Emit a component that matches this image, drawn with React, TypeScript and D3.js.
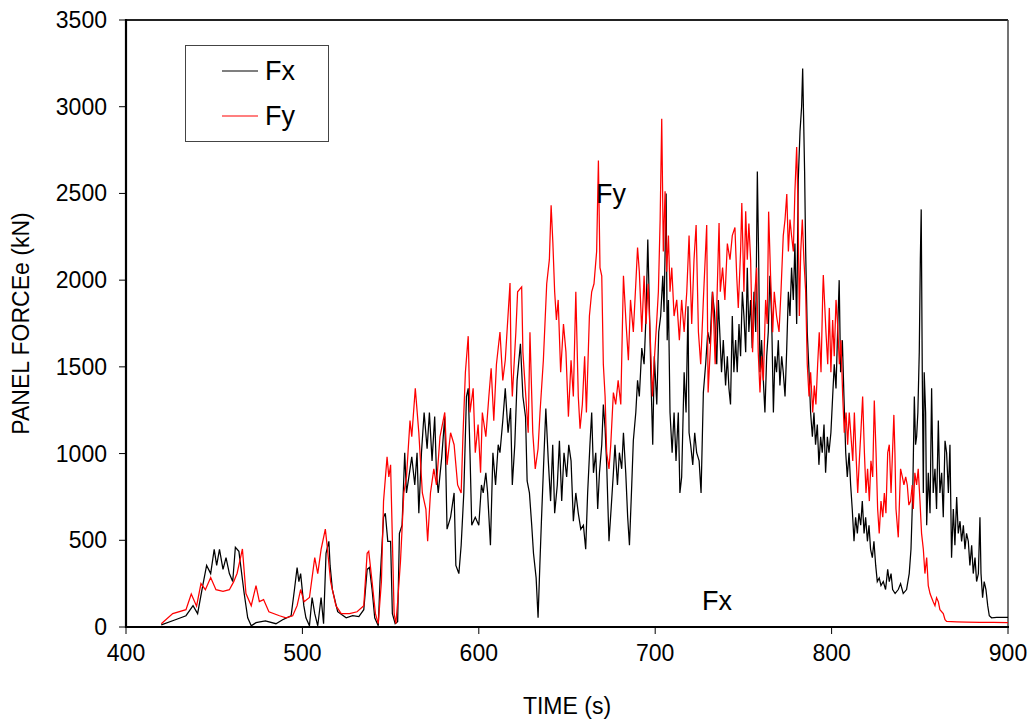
import React from "react";
import * as d3 from "d3";

const xTicks = [400, 500, 600, 700, 800, 900];
const yTicks = [0, 500, 1000, 1500, 2000, 2500, 3000, 3500];

// Fx (black) — [time s, force kN]
const fxData: [number, number][] = [
  [420,12],[428,42],[434,65],[438,123],[440.6,77],[443.5,239],[445.7,355],[448,308],[450,448],[451.4,355],[453,448],[455,332],[456.7,400],[458.6,308],[460.5,262],[462,460],[464,436],[465,355],[467,193],[469,53],[471,7],[473.7,25],[479,35],[485,19],[488.8,42],[493.6,65],[495.5,216],[497,343],[498,262],[499,308],[500.8,123],[502,53],[504,7],[505.5,170],[507,77],[508.7,7],[510.6,170],[512,19],[513.4,425],[515,494],[515.7,355],[517,216],[520,88],[524.8,53],[528.5,65],[532,60],[534.8,100],[536.7,332],[538,343],[539.5,216],[541,53],[543,7],[544,262],[546,633],[547,656],[548.4,494],[550,494],[551,77],[552.6,19],[554,30],[555,540],[556.5,587],[558,1005],[559,773],[560.7,889],[562,981],[563.7,819],[565,1005],[566,656],[567.5,1005],[569,1237],[570.7,1028],[572,1237],[573.5,958],[575,1213],[576,889],[577,773],[579,981],[580.7,1213],[582,564],[584,633],[586,773],[587,355],[588.7,308],[590,471],[591.5,773],[593,1329],[594,1376],[595,1005],[596,587],[598,633],[600,587],[601.5,819],[602.5,773],[604,889],[605,773],[606.6,471],[608,1005],[609.5,819],[611,1051],[612,1005],[613.6,1190],[615,1376],[616.6,1120],[618,1262],[619,819],[620.4,1051],[621.7,1422],[623.6,1633],[625,1329],[626.5,1211],[627.4,842],[628.7,773],[630,587],[631,425],[632.5,283],[633.6,53],[634.6,355],[635.5,610],[637,1005],[638,1260],[639.4,958],[640.7,726],[641.9,1051],[643,656],[644.5,819],[645.7,1074],[647,726],[648.3,1005],[649.8,865],[651,1051],[652.3,958],[653.6,610],[655,773],[656.4,656],[657.8,564],[659.3,587],[660.6,448],[661.7,773],[663,1051],[664,1237],[665,889],[666.3,1005],[667.4,680],[668.4,889],[669.7,1051],[670.6,1283],[671.6,1144],[672.5,935],[673.8,494],[675,680],[676.3,889],[677.2,1051],[678.6,819],[679.7,1005],[681,912],[682,1120],[683.3,889],[684.4,633],[685.4,471],[686.7,819],[687.6,1074],[689,1237],[690,1422],[691,1329],[692.4,1608],[693.7,1515],[694.8,1793],[695.8,2234],[696.5,1933],[697.5,1469],[698.6,1051],[699.5,1561],[700.9,1283],[702,1701],[703.1,1793],[704.3,2025],[705,1817],[706.2,2500],[706.8,1654],[707.5,1886],[708.4,1237],[709.6,1005],[710.7,1237],[711.8,958],[713.1,1237],[714,773],[715,865],[716.4,1469],[717.5,1237],[718.6,1850],[719.2,1120],[720.1,1051],[721.3,935],[722.4,1120],[723.5,1005],[724.9,958],[726,773],[727.3,1352],[728.6,1515],[729.8,1701],[731.1,1633],[732.4,1933],[733.6,1817],[734.9,1515],[735.8,1886],[736.4,1747],[737.6,1469],[738.6,1654],[739.9,1392],[740.9,1561],[741.8,1376],[742.7,1283],[743.7,1793],[744.6,1469],[745.6,1654],[746.5,1469],[747.5,1747],[748.4,1561],[749.4,1933],[750.3,1793],[751.3,1585],[752.2,2072],[753.1,1701],[754.1,1886],[755,1608],[756,1933],[757,1701],[757.9,2627],[758.6,2165],[759.4,1469],[760.3,1654],[761.3,1422],[762.2,1237],[763.2,1561],[764.1,1701],[765,2025],[766,1793],[767,1237],[767.9,1561],[768.8,1469],[769.8,1654],[770.7,1392],[771.7,1561],[772.6,1469],[773.6,1329],[774.5,1585],[775.5,1933],[776.4,1793],[777.3,2072],[778.3,1886],[779.2,2211],[780.2,1747],[781.1,2581],[782.1,2859],[783,3000],[783.6,3220],[784.1,2953],[784.7,2627],[785.3,2165],[786.2,1701],[787.2,1469],[788.1,1237],[789.1,1097],[790,1237],[790.9,1051],[791.9,1167],[792.8,935],[793.8,1097],[794.7,1005],[795.7,1167],[796.6,889],[797.6,1097],[798.5,1005],[799.6,1120],[800.6,1329],[801.5,1515],[802.5,1376],[803.4,1701],[804.3,2000],[805.1,1469],[806.1,1654],[807,1329],[808,1005],[808.9,865],[809.9,1005],[810.8,819],[811.7,680],[812.7,494],[813.6,633],[814.6,540],[815.5,656],[816.5,587],[817.4,726],[818.4,540],[819.3,633],[820.3,494],[821.2,587],[822.1,448],[823.1,400],[824,494],[825,355],[825.9,262],[827,283],[828,239],[829.3,262],[830.6,216],[831.8,332],[832.7,262],[833.7,308],[834.6,216],[836,193],[837.8,216],[839.1,250],[840.6,193],[842.5,216],[844,308],[845,448],[846,773],[846.9,1329],[847.6,1051],[848.2,1097],[848.9,1237],[849.7,1585],[850.3,2118],[850.8,2408],[851.4,1469],[852,773],[852.5,1469],[853.3,1237],[853.9,587],[854.8,889],[855.8,656],[856.7,1376],[857.6,773],[858.6,912],[859.5,680],[860.5,1190],[861.4,773],[862.4,889],[863.3,633],[864.3,1074],[865.2,1005],[866.2,773],[867.1,1051],[868,400],[869,680],[869.9,471],[870.9,749],[871.8,540],[872.8,610],[873.7,494],[874.7,587],[875.6,448],[876.5,540],[877.5,494],[878.4,355],[879.4,471],[880.3,308],[881.3,400],[882.2,262],[883.2,308],[884.1,633],[884.7,308],[885.6,169],[886.5,262],[887.5,216],[888.5,123],[889.4,65],[890.7,53],[893.6,55],[900,55]
];

// Fy (red) — [time s, force kN]
const fyData: [number, number][] = [
  [420,19],[426.5,77],[434,100],[437,190],[440,120],[442.5,250],[445,215],[448,285],[451,215],[455,205],[458.6,215],[461,260],[463,310],[466,450],[468,193],[471,123],[473.7,239],[475.6,146],[478,158],[481,88],[487,65],[490.7,53],[494.5,65],[497,123],[499,216],[501,146],[504,170],[507,400],[508.7,308],[510.6,448],[513,564],[514,471],[516,262],[519,123],[522,77],[526.7,77],[531,88],[534.8,123],[536.7,425],[537.6,436],[539.5,262],[541.4,77],[543,19],[544.8,262],[546,726],[548,981],[549,865],[550,935],[552,77],[553,19],[554,146],[555.6,378],[557.5,773],[559,865],[561,1190],[562,1097],[564,1376],[566,1120],[568,773],[570,680],[571,494],[572.6,773],[574.5,912],[576,819],[578,1097],[580.7,1237],[582,935],[584,1120],[586,1051],[588,819],[590,773],[591,1097],[592.4,1469],[594,1677],[595,1237],[596.8,1376],[598,1005],[599.6,1167],[601,889],[602,1237],[604,1097],[605.7,1329],[607,1492],[608.5,1190],[610,1515],[612,1701],[613.6,1422],[615,1538],[617.7,1984],[618.3,1515],[619,1329],[621,1700],[622,1933],[624.3,1961],[625,1585],[626.5,1352],[628,1120],[629,1700],[630.6,1120],[632,912],[633.6,1028],[634.7,1237],[636.6,1538],[637.5,1747],[638.5,1979],[640,2118],[641,2431],[642,2211],[643,1933],[644,1770],[645,1886],[646.4,1469],[648,1747],[649.4,1585],[650.8,1213],[652.3,1538],[653.6,1329],[655,1933],[656.4,1329],[657.4,1144],[658.7,1283],[660,1561],[661,1237],[662.7,1793],[664,1933],[665.3,1979],[666.8,2165],[667.8,2690],[668.7,2072],[669.7,2025],[670.6,1515],[671.6,1329],[672.5,1005],[673.8,912],[674.8,1051],[676.3,1352],[677.6,1283],[679,1422],[680.5,1283],[682,2025],[683.5,1747],[684.8,1538],[686,1886],[687.6,1701],[689,1979],[690,2188],[691,2049],[692.4,1701],[693.7,2025],[694.8,1747],[696,1979],[697,1724],[698.4,1329],[699.5,1538],[700.9,1770],[701.8,1933],[702.8,2350],[703.7,2930],[704.6,2165],[705.6,2513],[706.5,2049],[707.5,2257],[708.4,1933],[709.4,2072],[710.7,1793],[712.2,1886],[713.7,1654],[715,1886],[716.4,1701],[717.9,1933],[719.2,2257],[720.7,1747],[722,2118],[723.2,2318],[724.5,1701],[725.8,1515],[727.3,1886],[729.2,2318],[730,1352],[731.5,1654],[732.6,1933],[734,1515],[736.2,2330],[736.9,1933],[738.2,2072],[739.5,1886],[740.9,2211],[742.4,2118],[743.7,2257],[745.2,2304],[746.2,2025],[747.1,1840],[748.4,2165],[749.1,2445],[750.3,1933],[751.3,2397],[752.2,2118],[753.1,2327],[754.1,2118],[755.2,1585],[756.2,1886],[757.5,2072],[758.4,1585],[759.4,1352],[760.3,1561],[761.3,1422],[762.6,1886],[763.5,1747],[764.3,2395],[765.4,2025],[766.6,1700],[767.5,1933],[768.8,1793],[770.2,1701],[771.3,1933],[772.6,2257],[773.6,2350],[774.6,2497],[775.5,2165],[776.4,2350],[777.3,2257],[778.3,2165],[779.2,2513],[780.2,2768],[781,2397],[781.7,1793],[782.5,2165],[783.4,2350],[784.3,2118],[785.3,1933],[786.2,1515],[787.2,1329],[788.1,1469],[789.3,1237],[790.2,1392],[791.1,1283],[792.1,1515],[793,1700],[794,1469],[795,1933],[795.3,2030],[796.8,1701],[797.8,1515],[798.7,1840],[799.6,1469],[800.6,1770],[801.5,1561],[802.5,1886],[803.4,1747],[804.4,1515],[805.3,1654],[806.3,1329],[807.2,1120],[808.2,1237],[809.1,1051],[810,1237],[811,1097],[812,958],[812.9,1237],[813.8,1005],[814.8,773],[815.7,958],[816.7,1144],[817.6,1329],[818.6,1005],[819.5,773],[820.4,912],[821.4,726],[822.3,958],[823.3,865],[824.2,1306],[825.2,1005],[826.1,680],[827,540],[828,726],[829,633],[829.9,773],[830.8,656],[831.8,1005],[832.7,1051],[833.7,773],[835.3,1223],[835.9,1005],[836.5,680],[837.8,517],[839.1,912],[840.1,865],[841,819],[842,865],[842.9,819],[843.8,703],[844.8,726],[845.7,819],[846.3,680],[847.2,889],[848.2,819],[849.1,912],[850.1,726],[851,540],[852,448],[852.9,308],[853.9,400],[854.8,239],[855.8,193],[856.7,169],[857.6,146],[858.6,123],[859.5,169],[860.5,146],[861.4,100],[863.3,77],[864.3,42],[865.2,32],[870.9,30],[876.5,28],[884,27],[891.7,26],[900,25]
];

const seriesNames = ["Fx", "Fy"];
const seriesColors = ["#000000", "#ff0000"];

const W = 1034;
const H = 721;
const M = { left: 126, right: 1008, top: 20, bottom: 627 };
const FONT = "'Liberation Sans', Arial, sans-serif";

export default function App() {
  const x = d3.scaleLinear().domain([400, 900]).range([M.left, M.right]);
  const y = d3.scaleLinear().domain([0, 3500]).range([M.bottom, M.top]);
  const line = d3
    .line<[number, number]>()
    .x((d) => x(d[0]))
    .y((d) => y(d[1]));

  return (
    <div style={{ position: "absolute", left: 0, top: 0 }}>
      <svg width={W} height={H} style={{ display: "block", background: "#fff" }}>
        <rect x={0} y={0} width={W} height={H} fill="#fff" />
        {/* frame */}
        <line x1={M.left} x2={M.right} y1={M.top} y2={M.top} stroke="#222" strokeWidth={2} />
        <line x1={M.right} x2={M.right} y1={M.top} y2={M.bottom} stroke="#444" strokeWidth={1.5} />
        {/* data: Fx first, Fy drawn on top */}
        <path d={line(fxData) || ""} fill="none" stroke={seriesColors[0]} strokeWidth={1.25} />
        <path d={line(fyData) || ""} fill="none" stroke={seriesColors[1]} strokeWidth={1.25} />
        {/* axes */}
        <line x1={M.left} x2={M.left} y1={M.top - 1} y2={M.bottom + 1} stroke="#000" strokeWidth={2.2} />
        <line x1={M.left - 1} x2={M.right + 1} y1={M.bottom} y2={M.bottom} stroke="#000" strokeWidth={2.2} />
        {yTicks.map((t) => (
          <g key={"y" + t}>
            <line x1={M.left - 7} x2={M.left} y1={y(t)} y2={y(t)} stroke="#000" strokeWidth={1} />
            <text x={M.left - 19} y={y(t)} dy="0.35em" textAnchor="end" fontFamily={FONT} fontSize={23} fill="#000">
              {t}
            </text>
          </g>
        ))}
        {xTicks.map((t) => (
          <g key={"x" + t}>
            <line x1={x(t)} x2={x(t)} y1={M.bottom} y2={M.bottom + 7} stroke="#000" strokeWidth={1} />
            <text x={x(t)} y={M.bottom + 34} textAnchor="middle" fontFamily={FONT} fontSize={23} fill="#000">
              {t}
            </text>
          </g>
        ))}
        <text x={567} y={714} textAnchor="middle" fontFamily={FONT} fontSize={23} fill="#000">
          TIME (s)
        </text>
        <text
          transform={`translate(29, ${(M.top + M.bottom) / 2}) rotate(-90)`}
          textAnchor="middle"
          fontFamily={FONT}
          fontSize={23}
          fill="#000"
        >
          PANEL FORCEe (kN)
        </text>
        {/* legend */}
        <rect x={185.5} y={45.5} width={143} height={96} fill="#fff" stroke="#444" strokeWidth={1} />
        {seriesNames.map((n, i) => (
          <g key={n}>
            <line x1={222} x2={258} y1={71 + i * 45} y2={71 + i * 45} stroke={seriesColors[i]} strokeWidth={1.2} />
            <text x={265} y={80 + i * 45} fontFamily={FONT} fontSize={27} fill="#000">
              {n}
            </text>
          </g>
        ))}
        {/* annotations */}
        <text x={596} y={203} fontFamily={FONT} fontSize={27} fill="#000">Fy</text>
        <text x={702} y={610} fontFamily={FONT} fontSize={27} fill="#000">Fx</text>
      </svg>
    </div>
  );
}
